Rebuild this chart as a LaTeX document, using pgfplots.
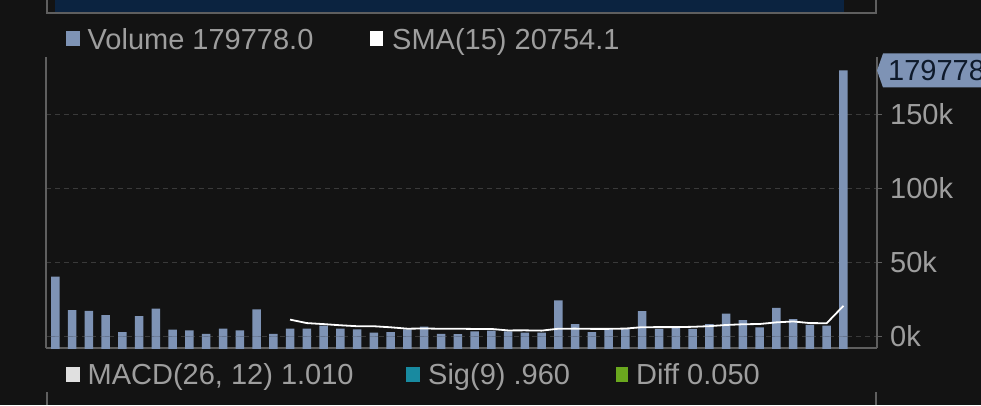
\documentclass[border=0pt]{standalone}
\usepackage{pgfplots}
\pgfplotsset{compat=1.18}
\usepackage{pgfplotstable}
\usepackage{fontspec}
\setmainfont{Liberation Sans}

\definecolor{bg}{RGB}{19,19,19}
\definecolor{volbar}{RGB}{126,147,181}
\definecolor{gridc}{RGB}{58,58,58}
\definecolor{axc}{RGB}{95,95,95}
\definecolor{txt}{RGB}{158,158,158}
\definecolor{navy}{RGB}{11,35,64}
\definecolor{macdc}{RGB}{224,224,224}
\definecolor{sigc}{RGB}{24,138,160}
\definecolor{diffc}{RGB}{106,168,30}
\definecolor{lbltxt}{RGB}{14,26,43}
\newcommand\chartfont{\fontsize{29}{34}\selectfont}

% volume per bar; base = lower strip drawn below zero (clipped at ymin)
\pgfplotstableread{
x vol base
0 40500 -20000
1 17800 -20000
2 17300 -20000
3 14400 -20000
4 2900 -20000
5 13700 -20000
6 18900 -20000
7 4700 -20000
8 4100 -20000
9 1800 -20000
10 5400 -20000
11 4100 -20000
12 18400 -20000
13 1800 -20000
14 5400 -20000
15 5400 -20000
16 7400 -20000
17 5400 -20000
18 4900 -20000
19 2600 -20000
20 3000 -20000
21 4800 -20000
22 6600 -20000
23 1800 -20000
24 1600 -20000
25 3500 -20000
26 4000 -20000
27 3500 -20000
28 2600 -20000
29 2600 -20000
30 24500 -20000
31 8400 -20000
32 3000 -20000
33 5100 -20000
34 5500 -20000
35 17100 -20000
36 5100 -20000
37 6600 -20000
38 5100 -20000
39 8400 -20000
40 15400 -20000
41 11100 -20000
42 6200 -20000
43 19300 -20000
44 11800 -20000
45 7800 -20000
46 7300 -20000
47 179778 -20000
}\voldata

\pgfplotstableread{
x sma
14 11410
15 9070
16 8380
17 7590
18 6950
19 6930
20 6220
21 5280
22 5410
23 5250
24 5240
25 5110
26 5110
27 4110
28 4170
29 3980
30 5250
31 5320
32 5160
33 5170
34 5370
35 6310
36 6330
37 6330
38 6550
39 7000
40 7790
41 8270
42 8450
43 9560
44 10170
45 9060
46 8990
47 20754
}\smadata

\begin{document}
\begin{tikzpicture}[x=1pt,y=1pt]
\fill[bg] (0,0) rectangle (981,405);
\useasboundingbox (0,0) rectangle (981,405);

% upper panel edge
\fill[navy] (55,392.5) rectangle (844,405);
\draw[axc, line width=1.2pt] (47,405) -- (47,392) -- (876,392) -- (876,405);

% legend, top
\fill[volbar] (66,359) rectangle (80,374);
\node[anchor=base west, inner sep=0pt, text=txt, font=\chartfont] at (87.5,355.7) {Volume 179778.0};
\fill[white] (370,359) rectangle (382.5,374);
\node[anchor=base west, inner sep=0pt, text=txt, font=\chartfont] at (392,355.7) {SMA(15) 20754.1};

% legend, bottom
\fill[macdc] (66,23) rectangle (80,38);
\node[anchor=base west, inner sep=0pt, text=txt, font=\chartfont] at (87.5,21) {MACD(26, 12) 1.010};
\fill[sigc] (406,23) rectangle (420,38);
\node[anchor=base west, inner sep=0pt, text=txt, font=\chartfont] at (428,21) {Sig(9) .960};
\fill[diffc] (616,23) rectangle (628,38);
\node[anchor=base west, inner sep=0pt, text=txt, font=\chartfont] at (636,21) {Diff 0.050};
\draw[axc, line width=1.2pt] (47,0) -- (47,13) (876,0) -- (876,13);

\begin{axis}[
  at={(46pt,57pt)}, anchor=south west,
  scale only axis, width=831pt, height=291pt,
  xmin=-0.555, xmax=49.0, ymin=-7770, ymax=188900,
  axis x line*=bottom, axis y line*=right,
  axis line style={axc, line width=1.2pt},
  xtick=\empty,
  ytick={0,50000,100000,150000},
  yticklabels={0k,50k,100k,150k},
  scaled y ticks=false,
  tick style={axc, line width=1.2pt},
  tick align=outside, major tick length=5pt,
  yticklabel style={font=\chartfont, text=txt, inner sep=0pt, xshift=8pt},
  ymajorgrids,
  grid style={gridc, dash pattern=on 5pt off 4pt, line width=1pt},
]
\addplot[ybar, bar width=8.5pt, bar shift=0pt, fill=volbar, draw=none] table[x=x, y=vol] {\voldata};
\addplot[ybar, bar width=8.5pt, bar shift=0pt, fill=volbar, draw=none] table[x=x, y=base] {\voldata};
\addplot[white, line width=1.8pt, no markers] table[x=x, y=sma] {\smadata};
\coordinate (lbl) at (axis cs:49.0,179778);
\end{axis}
\draw[axc, line width=1.2pt] (46,57) -- (46,348);

% last value tag
\fill[volbar] (lbl) -- ++(6,17) -- ++(120,0) -- ++(0,-34) -- ++(-120,0) -- cycle;
\node[anchor=west, inner sep=0pt, text=lbltxt, font=\chartfont] at ([xshift=11pt]lbl) {179778};
\end{tikzpicture}
\end{document}
